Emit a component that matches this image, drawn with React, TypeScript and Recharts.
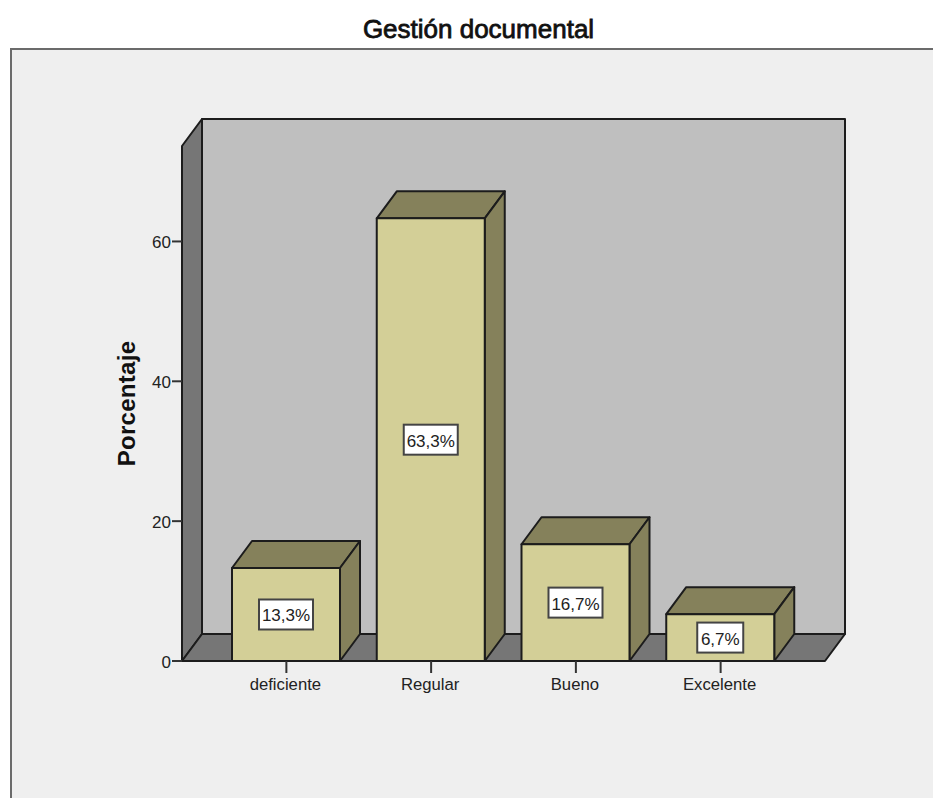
import { BarChart, Bar, XAxis, YAxis, LabelList, Label, usePlotArea } from "recharts";

const categories = ["deficiente", "Regular", "Bueno", "Excelente"];
const percentages = [13.3, 63.3, 16.7, 6.7];
const yTicks = [0, 20, 40, 60];
const yAxisMax = 73.65;

const data = categories.map((name, i) => ({ name, value: percentages[i] }));

const FONT = '"Liberation Sans", Arial, sans-serif';
const EDGE = "#1c1c1c";
// Offset of the back plane relative to the front plane
const DEPTH_X = 20;
const DEPTH_Y = -27;

function pts(list: number[][]) {
  return list.map((p) => p.join(",")).join(" ");
}

// Back wall, left wall and floor behind the bars
function Walls() {
  const plot = usePlotArea();
  if (!plot) return null;
  const l = plot.x;
  const r = plot.x + plot.width;
  const t = plot.y;
  const b = plot.y + plot.height;
  return (
    <g stroke={EDGE} strokeWidth={2} strokeLinejoin="round">
      <rect x={l + DEPTH_X} y={t + DEPTH_Y} width={plot.width} height={plot.height} fill="#bfbfbf" />
      <polygon
        points={pts([[l, t], [l + DEPTH_X, t + DEPTH_Y], [l + DEPTH_X, b + DEPTH_Y], [l, b]])}
        fill="#767676"
      />
      <polygon
        points={pts([[l, b], [l + DEPTH_X, b + DEPTH_Y], [r + DEPTH_X, b + DEPTH_Y], [r, b]])}
        fill="#767676"
      />
    </g>
  );
}

function Bar3D(props: any) {
  const { x, y, width, height } = props;
  const r = x + width;
  const b = y + height;
  return (
    <g stroke={EDGE} strokeWidth={2} strokeLinejoin="round">
      <polygon
        points={pts([[x, y], [x + DEPTH_X, y + DEPTH_Y], [r + DEPTH_X, y + DEPTH_Y], [r, y]])}
        fill="#85815b"
      />
      <polygon
        points={pts([[r, y], [r + DEPTH_X, y + DEPTH_Y], [r + DEPTH_X, b + DEPTH_Y], [r, b]])}
        fill="#85815b"
      />
      <rect x={x} y={y} width={width} height={height} fill="#d3cf97" />
    </g>
  );
}

function ValueBox(props: any) {
  const { x, y, width, height, value } = props;
  const text = String(value).replace(".", ",") + "%";
  const boxW = 14 + 8 * text.length;
  const boxH = 30;
  const cx = x + width / 2;
  const cy = y + height / 2;
  return (
    <g>
      <rect
        x={cx - boxW / 2}
        y={cy - boxH / 2}
        width={boxW}
        height={boxH}
        fill="#ffffff"
        stroke="#444444"
        strokeWidth={2}
      />
      <text x={cx} y={cy + 7} textAnchor="middle" fontFamily={FONT} fontSize={17} fill="#222222">
        {text}
      </text>
    </g>
  );
}

function YTitle(props: any) {
  const { viewBox } = props;
  const x = viewBox.x + 13;
  const y = viewBox.y + viewBox.height / 2;
  return (
    <text
      x={x}
      y={y}
      transform={`rotate(-90 ${x} ${y})`}
      textAnchor="middle"
      fontFamily={FONT}
      fontSize={24}
      letterSpacing={0.3}
      fontWeight="bold"
      fill="#111111"
    >
      Porcentaje
    </text>
  );
}

export default function App() {
  return (
    <div style={{ position: "absolute", left: 0, top: 0, width: 933, height: 798, background: "#ffffff", overflow: "hidden" }}>
      <div
        style={{
          position: "absolute",
          left: 0,
          top: 14,
          width: 957,
          textAlign: "center",
          fontFamily: FONT,
          fontSize: 26,
          color: "#111111",
          WebkitTextStroke: "0.8px #111111",
        }}
      >
        Gestión documental
      </div>
      <div
        style={{
          position: "absolute",
          left: 10,
          top: 48,
          width: 940,
          height: 770,
          boxSizing: "border-box",
          background: "#efefef",
          border: "2px solid #6b6b6b",
        }}
      />
      <div style={{ position: "absolute", left: 0, top: 0 }}>
        <BarChart
          width={933}
          height={798}
          data={data}
          barSize={108}
          margin={{ top: 146, right: 108, bottom: 97, left: 122 }}
        >
          <Walls />
          <XAxis
            dataKey="name"
            height={40}
            padding={{ left: 32, right: 32 }}
            axisLine={false}
            tickSize={12}
            tickMargin={5}
            tickLine={{ stroke: "#333333", strokeWidth: 2 }}
            tick={{ fill: "#222222", fontSize: 16.7, fontFamily: FONT, dx: -1 }}
            interval={0}
          />
          <YAxis
            width={60}
            domain={[0, yAxisMax]}
            ticks={yTicks}
            axisLine={false}
            tickSize={10}
            tickMargin={1}
            tickLine={{ stroke: "#333333", strokeWidth: 2 }}
            tick={{ fill: "#222222", fontSize: 17, fontFamily: FONT, dy: 1 }}
          >
            <Label content={<YTitle />} />
          </YAxis>
          <Bar dataKey="value" shape={<Bar3D />} isAnimationActive={false}>
            <LabelList dataKey="value" content={<ValueBox />} />
          </Bar>
        </BarChart>
      </div>
    </div>
  );
}
